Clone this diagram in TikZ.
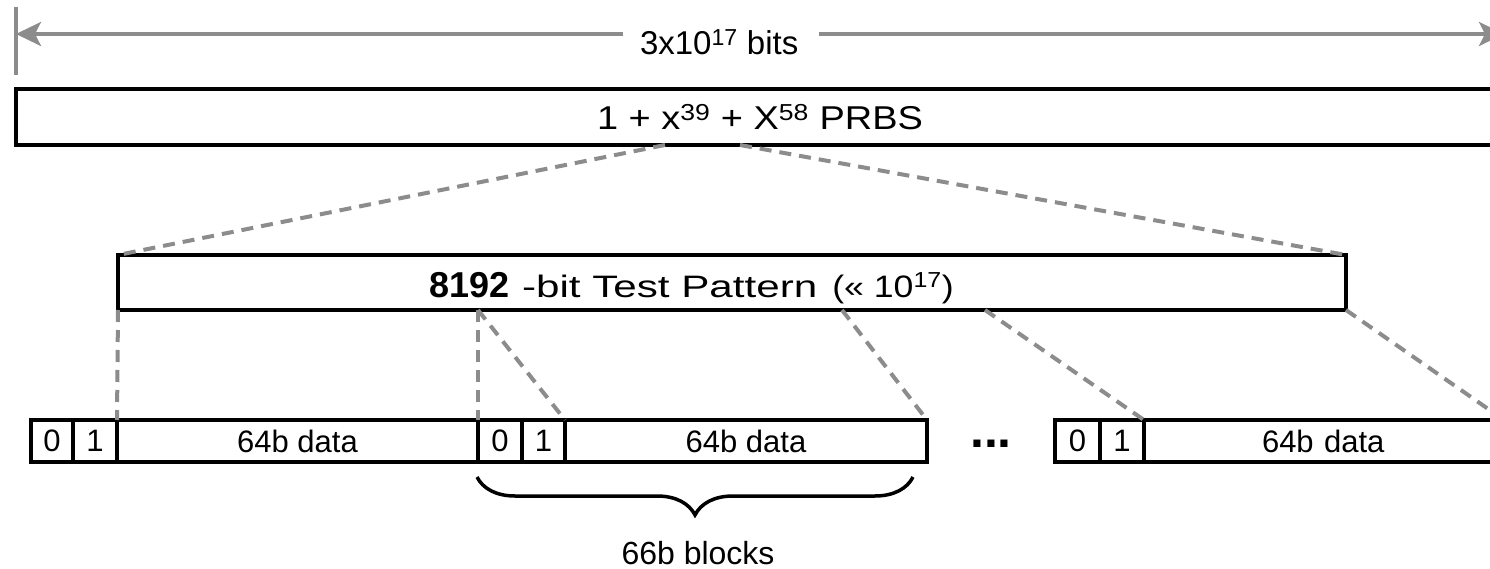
\documentclass[tikz,border=0pt]{standalone}
\usepackage{fontspec}
\setmainfont{Liberation Sans}
\newfontfamily\widefont[FakeStretch=1.36]{Liberation Sans}
\newfontfamily\midfont[FakeStretch=1.15]{Liberation Sans}
\usetikzlibrary{arrows.meta,decorations.pathreplacing}
\definecolor{lgray}{HTML}{8C8C8C}
\tikzset{
  frame/.style={draw=black,line width=4pt,inner sep=0pt,outer sep=0pt},
  cell/.style={frame,minimum height=42pt,font=\fontsize{31}{33}\selectfont},
  gline/.style={draw=lgray,line width=3.5pt},
  gdash/.style={draw=lgray,line width=4pt,dash pattern=on 12pt off 8pt},
  txt/.style={inner sep=0pt,outer sep=0pt}
}
\begin{document}
\begin{tikzpicture}[x=1pt,y=-1pt]
\useasboundingbox (0,0) rectangle (1490,569);
% top dimension
\coordinate (tickT) at (16,7);
\coordinate (tickB) at (16,75);
\coordinate (arrL) at (16,34);
\coordinate (arrR) at (1504,34);
\draw[gline,line width=4pt] (tickT) -- (tickB);
\draw[gline,{Stealth[length=25pt,width=24pt,inset=6pt]}-{Stealth[length=25pt,width=24pt,inset=6pt]}] (arrL) -- (arrR);
\fill[white] (623,20) rectangle (819,50);
\node[txt,anchor=base west,font=\fontsize{33}{35}\selectfont] (dim) at (640,55) {3x10\textsuperscript{17} bits};
% PRBS box
\node[frame,minimum width=1494pt,minimum height=56pt] (prbs) at (763,117.5) {};
\node[txt,anchor=base west,font=\midfont\fontsize{33}{35}\selectfont] (prbstxt) at (597,130) {1 + x\textsuperscript{39} + X\textsuperscript{58} PRBS};
% test pattern box
\node[frame,minimum width=1228pt,minimum height=55pt] (tp) at (732,282.5) {};
\node[txt,anchor=base west] (tptxt) at (429,297) {{\fontsize{36}{38}\selectfont\bfseries 8192}\hspace{13pt}{\widefont\fontsize{31}{33}\selectfont -bit Test Pattern}\hspace{15pt}{\midfont\fontsize{31}{33}\selectfont (« 10\textsuperscript{17})}};
% blocks
\node[cell,minimum width=42pt] (a0) at (52,441) {0};
\node[cell,minimum width=44pt] (a1) at (95,441) {1};
\node[cell,minimum width=361pt] (ad) at (297.5,441) {64b data};
\node[cell,minimum width=44pt] (b0) at (500,441) {0};
\node[cell,minimum width=43pt] (b1) at (543.5,441) {1};
\node[cell,minimum width=362pt] (bd) at (746,441) {64b data};
\node[txt,anchor=base,font=\fontsize{50}{52}\selectfont\bfseries] (dots) at (991,447) {...};
\node[cell,minimum width=45pt] (c0) at (1077.5,441) {0};
\node[cell,minimum width=44pt] (c1) at (1122,441) {1};
\node[cell,minimum width=360pt,text width=340pt,align=left] (cd) at (1324,441) {\hspace{108pt}64b data};
% dashed zoom lines
\coordinate (p1) at (665,145);
\coordinate (p2) at (740,145);
\draw[gdash] (p1) -- (tp.north west);
\draw[gdash] (p2) -- (tp.north east);
\coordinate (t1) at (478,310);
\coordinate (t2) at (842,310);
\coordinate (t3) at (985,310);
\draw[gdash] (tp.south west) -- (ad.north west);
\draw[gdash] (t1) -- (b0.north west);
\draw[gdash] (t1) -- (b1.north east);
\draw[gdash] (t2) -- (bd.north east);
\draw[gdash] (t3) -- (c1.north east);
\draw[gdash] (tp.south east) -- (cd.north east);
% brace
\coordinate (brL) at (477,477);
\coordinate (brR) at (913,477);
\draw[line width=3.5pt,decorate,decoration={brace,mirror,amplitude=38pt,aspect=0.5}] (brL) -- (brR);
\node[txt,font=\fontsize{32}{34}\selectfont] (blk) at (698,553) {66b blocks};
\end{tikzpicture}
\end{document}
